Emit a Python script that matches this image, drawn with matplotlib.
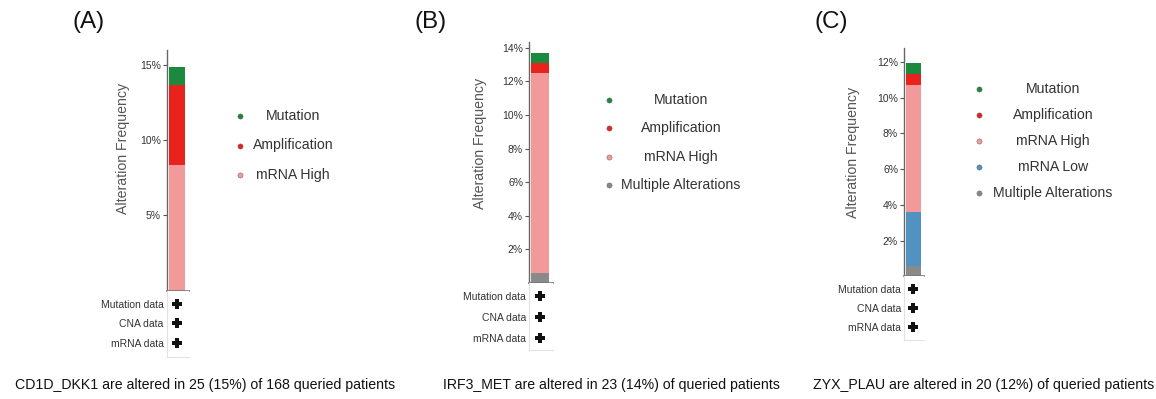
import matplotlib
matplotlib.use("Agg")
import matplotlib.pyplot as plt
from matplotlib.ticker import FuncFormatter

plt.rcParams['font.family'] = ['Liberation Sans', 'DejaVu Sans']

W, H = 1156, 399

colors = {
    'Mutation': '#1b8a3e',
    'Amplification': '#e8231e',
    'mRNA High': '#f19a99',
    'mRNA Low': '#5192c0',
    'Multiple Alterations': '#8a8a8a',
}
legend_order = ['Mutation', 'Amplification', 'mRNA High', 'mRNA Low', 'Multiple Alterations']
data_rows = ['Mutation data', 'CNA data', 'mRNA data']

# stacked from bottom to top, percent of queried patients
a_types = ['mRNA High', 'Amplification', 'Mutation']
a_freq = [8.33, 5.36, 1.19]
a_ticks = [5, 10, 15]
a_caption = 'CD1D_DKK1 are altered in 25 (15%) of 168 queried patients'

b_types = ['Multiple Alterations', 'mRNA High', 'Amplification', 'Mutation']
b_freq = [0.6, 11.9, 0.6, 0.6]
b_ticks = [2, 4, 6, 8, 10, 12, 14]
b_caption = 'IRF3_MET are altered in 23 (14%) of queried patients'

c_types = ['Multiple Alterations', 'mRNA Low', 'mRNA High', 'Amplification', 'Mutation']
c_freq = [0.6, 2.98, 7.14, 0.6, 0.6]
c_ticks = [2, 4, 6, 8, 10, 12]
c_caption = 'ZYX_PLAU are altered in 20 (12%) of queried patients'


def box(x0, y0, x1, y1):
    return [x0 / W, 1 - y1 / H, (x1 - x0) / W, (y1 - y0) / H]


def panel(fig, tag, types, freq, ticks, caption, lay):
    x0, top, x1, bottom, lower, ymax = lay['ax']
    ax = fig.add_axes(box(x0, top, x1, bottom))
    base = 0
    for t, f in zip(types, freq):
        ax.bar(0, f, width=1, bottom=base, color=colors[t], linewidth=0)
        base += f
    ax.set_xlim(-0.6, 0.74)
    ax.set_ylim(0, ymax)
    ax.set_xticks([])
    ax.set_yticks(ticks)
    ax.yaxis.set_major_formatter(FuncFormatter(lambda v, p: '%d%%' % v))
    ax.tick_params(axis='y', length=3, width=0.8, color='#555555', pad=1.5,
                   labelsize=7.5, labelcolor='#333333')
    for s in ['top', 'right']:
        ax.spines[s].set_visible(False)
    ax.spines['left'].set_color('#666666')
    ax.spines['left'].set_linewidth(1.0)
    ax.spines['bottom'].set_color('#777777')
    ax.spines['bottom'].set_linewidth(1.2)
    ax.set_ylabel('Alteration Frequency', fontsize=10.2, color='#555555', va='center')
    lx, ly = lay['ylabel']
    ax.yaxis.set_label_coords(lx / W, 1 - ly / H, transform=fig.transFigure)

    # profiled data types under the bar
    axl = fig.add_axes(box(x0, bottom, x1, lower))
    axl.plot([0] * len(data_rows), range(len(data_rows)), 'P', color='#111111',
             markersize=6.5, markeredgewidth=0)
    axl.set_xlim(-0.6, 0.74)
    axl.set_ylim(len(data_rows) - 1 + lay['pad'][1], -lay['pad'][0])
    axl.set_xticks([])
    axl.set_yticks(range(len(data_rows)))
    axl.set_yticklabels(data_rows)
    axl.tick_params(axis='y', length=0, pad=2.5, labelsize=7.5, labelcolor='#333333')
    for s in ['top', 'right']:
        axl.spines[s].set_visible(False)
    for s in ['left', 'bottom']:
        axl.spines[s].set_color('#e2e2e2')
        axl.spines[s].set_linewidth(0.8)

    # legend: dot on the left, label centred in its column
    present = [t for t in legend_order if t in types]
    mx, tx, ry0, ry1 = lay['legend']
    axg = fig.add_axes(box(mx, ry0, tx, ry1))
    axg.set_xlim(0, 1)
    axg.set_ylim(len(present) - 1, 0)
    axg.axis('off')
    for i, t in enumerate(present):
        axg.scatter(0, i, s=14, color=colors[t], edgecolors='#555555',
                    linewidths=0.3, clip_on=False)
        axg.text(1, i, t, ha='center', va='center', fontsize=10.2, color='#333333')

    px, py = lay['tag']
    fig.text(px / W, 1 - py / H, tag, fontsize=17.5, ha='left', va='center', color='#111111')
    cx, cy = lay['caption']
    fig.text(cx / W, 1 - cy / H, caption, fontsize=10.2, ha='left', va='center', color='#111111')


fig = plt.figure(figsize=(W / 100, H / 100), dpi=100)

panel(fig, '(A)', a_types, a_freq, a_ticks, a_caption, {
    'ax': (167, 50, 189, 290.5, 357, 16.0), 'pad': (0.69, 0.72),
    'ylabel': (123, 148), 'legend': (240, 293, 116, 175),
    'tag': (72, 22), 'caption': (15, 385)})
panel(fig, '(B)', b_types, b_freq, b_ticks, b_caption, {
    'ax': (529.3, 41.7, 552.7, 283, 350, 14.36), 'pad': (0.62, 0.57),
    'ylabel': (480, 143), 'legend': (609, 681, 100, 185),
    'tag': (414, 22), 'caption': (443, 385)})
panel(fig, '(C)', c_types, c_freq, c_ticks, c_caption, {
    'ax': (904.3, 48.3, 924.3, 276.3, 340, 12.77), 'pad': (0.67, 0.68),
    'ylabel': (853, 152), 'legend': (979, 1053, 89, 193),
    'tag': (814, 22), 'caption': (813, 385)})

fig.savefig('out.png', dpi=100, facecolor='white')
